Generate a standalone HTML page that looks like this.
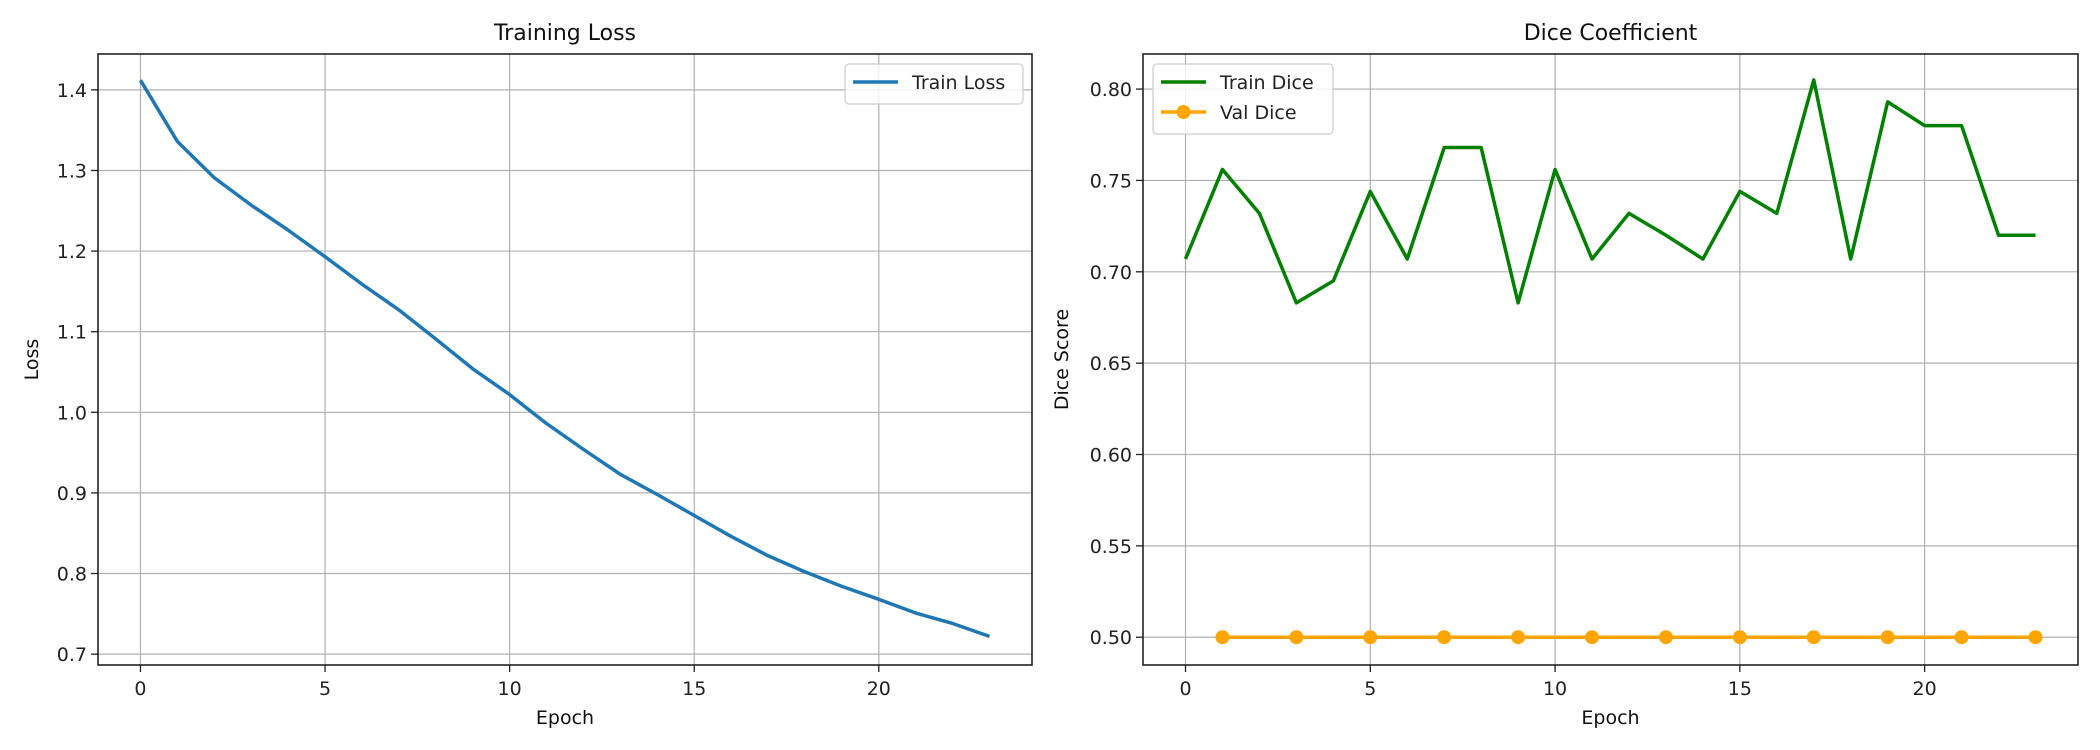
<!DOCTYPE html>
<html><head><meta charset="utf-8"><style>
body{margin:0;background:#fff}
svg{display:block;font-family:"DejaVu Sans","Liberation Sans",sans-serif}
</style></head><body>
<svg id="c" width="2100" height="750"></svg>
<script>
const epochs=[0,1,2,3,4,5,6,7,8,9,10,11,12,13,14,15,16,17,18,19,20,21,22,23];
const trainLoss=[1.412,1.336,1.291,1.257,1.226,1.193,1.159,1.127,1.091,1.054,1.022,0.986,0.954,0.923,0.898,0.872,0.846,0.822,0.802,0.784,0.768,0.751,0.738,0.722];
const trainDice=[0.707,0.756,0.732,0.683,0.695,0.744,0.707,0.768,0.768,0.683,0.756,0.707,0.732,0.720,0.707,0.744,0.732,0.805,0.707,0.793,0.780,0.780,0.720,0.720];
const valEpochs=[1,3,5,7,9,11,13,15,17,19,21,23];
const valDice=[0.5,0.5,0.5,0.5,0.5,0.5,0.5,0.5,0.5,0.5,0.5,0.5];
const xTicks=[0,5,10,15,20];
const lossTicks=[0.7,0.8,0.9,1.0,1.1,1.2,1.3,1.4];
const diceTicks=[0.50,0.55,0.60,0.65,0.70,0.75,0.80];

const NS='http://www.w3.org/2000/svg';
const svg=document.getElementById('c');
function mk(tag,at,parent,txt){const e=document.createElementNS(NS,tag);for(const k in at)e.setAttribute(k,at[k]);if(txt!==undefined)e.textContent=txt;(parent||svg).appendChild(e);return e;}

function panel(o){
  const g=mk('g',{});
  
  
  const {L,R,T,B}=o;
  const xmin=-1.15,xmax=24.15;
  const sx=v=>L+(v-xmin)/(xmax-xmin)*(R-L);
  const sy=v=>B-(v-o.ymin)/(o.ymax-o.ymin)*(B-T);
  xTicks.forEach(t=>{
    const l=mk('line',{x1:sx(t),x2:sx(t),y1:T,y2:B,stroke:'#b0b0b0','stroke-width':1.2},g);
    
    mk('line',{x1:sx(t),x2:sx(t),y1:B,y2:B+7,stroke:'#222','stroke-width':1.3},g);
    const tx=mk('text',{x:sx(t),y:B+30,'text-anchor':'middle','font-size':19,fill:'#222'},g,String(t));
    
  });
  o.yt.forEach(t=>{
    const l=mk('line',{x1:L,x2:R,y1:sy(t),y2:sy(t),stroke:'#b0b0b0','stroke-width':1.2},g);
    
    mk('line',{x1:L-7,x2:L,y1:sy(t),y2:sy(t),stroke:'#222','stroke-width':1.3},g);
    const tx=mk('text',{x:L-11,y:sy(t)+7,'text-anchor':'end','font-size':19,fill:'#222'},g,t.toFixed(o.dec));
    
  });
  o.series.forEach(s=>{
    const p=mk('polyline',{points:s.x.map((v,i)=>sx(v)+','+sy(s.y[i])).join(' '),fill:'none',stroke:s.c,'stroke-width':3.5,'stroke-linejoin':'round'},g);
    
    if(s.m)s.x.forEach((v,i)=>{const c=mk('circle',{cx:sx(v),cy:sy(s.y[i]),r:7,fill:s.c},g);
      });
  });
  const fr=mk('rect',{x:L,y:T,width:R-L,height:B-T,fill:'none',stroke:'#222','stroke-width':1.6},g);
  
  const ti=mk('text',{x:(L+R)/2,y:40,'text-anchor':'middle','font-size':22,fill:'#111'},g,o.title);
  
  const xl=mk('text',{x:(L+R)/2,y:724,'text-anchor':'middle','font-size':19,fill:'#111'},g,'Epoch');
  
  const yl=mk('text',{x:0,y:0,'text-anchor':'middle','font-size':19,fill:'#111',transform:`translate(${o.ylx},${(T+B)/2}) rotate(-90)`},g,o.ylabel);
  
  const lg=mk('g',{},g);
  
  const h=o.series.length*30+10;
  mk('rect',{x:o.lx,y:64,width:o.lw,height:h,rx:4,fill:'#fff','fill-opacity':0.8,stroke:'#ccc','stroke-width':1.2},lg);
  o.series.forEach((s,i)=>{
    const y=82+i*30;
    const e=mk('g',{},lg);
    
    mk('line',{x1:o.lx+8,x2:o.lx+53,y1:y,y2:y,stroke:s.c,'stroke-width':3.5},e);
    if(s.m)mk('circle',{cx:o.lx+30.5,cy:y,r:7,fill:s.c},e);
    mk('text',{x:o.lx+67,y:y+7,'font-size':19,fill:'#222'},e,s.label);
  });
}
panel({name:'training-loss-chart',L:98,R:1032,T:54,B:665,ymin:0.6865,ymax:1.4445,yt:lossTicks,dec:1,
  title:'Training Loss',ylabel:'Loss',ylx:38,lx:845,lw:178,
  series:[{name:'train-loss-line',label:'Train Loss',x:epochs,y:trainLoss,c:'#1f77b4'}]});
panel({name:'dice-coefficient-chart',L:1143,R:2078,T:54,B:665,ymin:0.4848,ymax:0.8192,yt:diceTicks,dec:2,
  title:'Dice Coefficient',ylabel:'Dice Score',ylx:1068,lx:1153,lw:180,
  series:[{name:'train-dice-line',label:'Train Dice',x:epochs,y:trainDice,c:'#008000'},
          {name:'val-dice-line',label:'Val Dice',x:valEpochs,y:valDice,c:'#ffa500',m:true}]});
</script>
</body></html>
